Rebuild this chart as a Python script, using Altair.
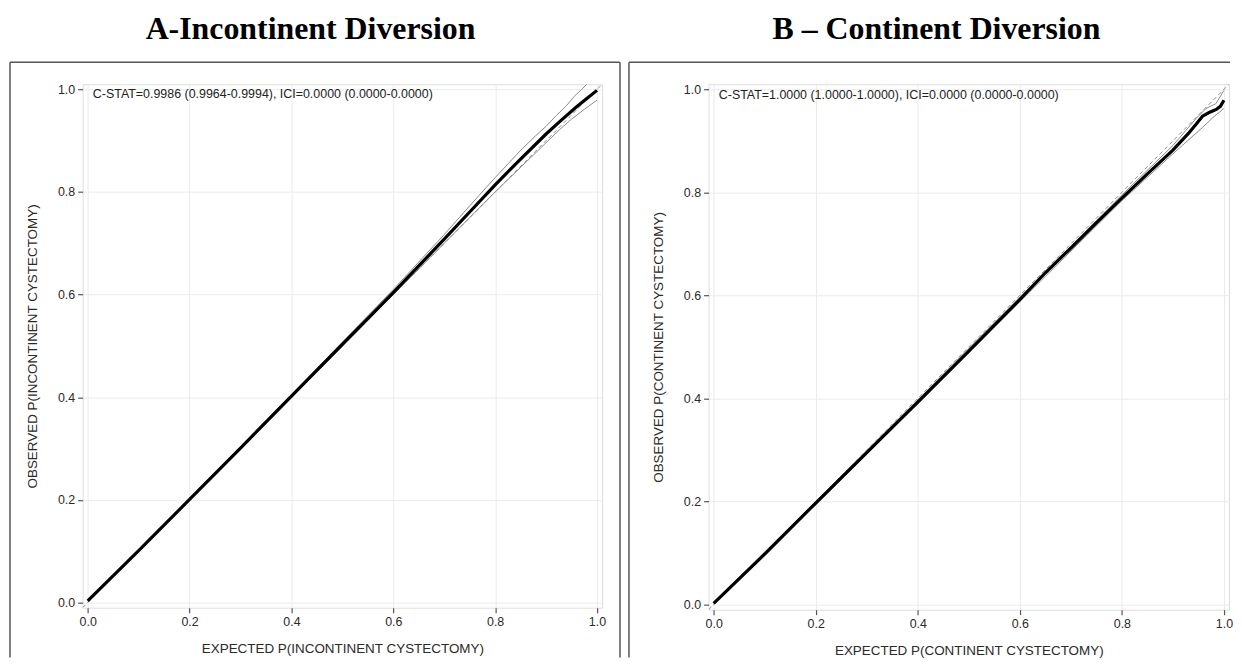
import altair as alt
import pandas as pd

# ---------------- data ----------------
tick_vals = [0.0, 0.2, 0.4, 0.6, 0.8, 1.0]
diag = [-0.01, 1.01]

# Panel A - incontinent diversion
a_x = [0.0, 0.1, 0.2, 0.3, 0.4, 0.5, 0.6, 0.65, 0.7, 0.75, 0.8, 0.85, 0.9, 0.93, 0.96, 0.98, 1.0]
a_y = [0.003, 0.101, 0.201, 0.301, 0.402, 0.503, 0.604, 0.656, 0.708, 0.761, 0.814, 0.864, 0.913, 0.94, 0.966, 0.982, 0.998]
a_up_x = [0.0, 0.2, 0.4, 0.6, 0.7, 0.75, 0.8, 0.85, 0.88, 0.9, 0.92, 0.94, 0.955, 0.97, 0.99, 1.0]
a_up_y = [0.004, 0.203, 0.405, 0.61, 0.717, 0.773, 0.828, 0.881, 0.91, 0.928, 0.949, 0.968, 0.986, 1.0, 1.02, 1.03]
a_lo_x = [0.0, 0.2, 0.4, 0.6, 0.7, 0.8, 0.85, 0.9, 0.926, 0.95, 0.975, 1.0]
a_lo_y = [0.001, 0.199, 0.399, 0.6, 0.7, 0.8, 0.848, 0.896, 0.921, 0.942, 0.961, 0.979]

# Panel B - continent diversion
b_x = [0.0, 0.1, 0.2, 0.3, 0.4, 0.5, 0.6, 0.65, 0.7, 0.75, 0.8, 0.85, 0.9, 0.93, 0.945, 0.958, 0.971, 0.985, 0.993, 1.0]
b_y = [0.002, 0.098, 0.197, 0.295, 0.393, 0.492, 0.592, 0.644, 0.692, 0.741, 0.789, 0.836, 0.882, 0.914, 0.932, 0.948, 0.955, 0.961, 0.967, 0.979]
b_up_x = [0.0, 0.2, 0.4, 0.6, 0.8, 0.9, 0.945, 0.965, 0.984, 1.0]
b_up_y = [0.004, 0.2, 0.397, 0.597, 0.795, 0.891, 0.943, 0.963, 0.972, 0.998]
b_lo_x = [0.0, 0.2, 0.4, 0.6, 0.8, 0.9, 0.958, 0.978, 1.0]
b_lo_y = [0.001, 0.194, 0.39, 0.588, 0.784, 0.875, 0.926, 0.945, 0.963]

a_stat = "C-STAT=0.9986 (0.9964-0.9994), ICI=0.0000 (0.0000-0.0000)"
b_stat = "C-STAT=1.0000 (1.0000-1.0000), ICI=0.0000 (0.0000-0.0000)"
a_title = "A-Incontinent Diversion"
b_title = "B \u2013 Continent Diversion"
a_xt = "EXPECTED P(INCONTINENT CYSTECTOMY)"
a_yt = "OBSERVED P(INCONTINENT CYSTECTOMY)"
b_xt = "EXPECTED P(CONTINENT CYSTECTOMY)"
b_yt = "OBSERVED P(CONTINENT CYSTECTOMY)"
stat_pos = [0.01, 0.99]

SANS = "Liberation Sans"
SERIF = "Liberation Serif"


def axis(title, pad):
    return alt.Axis(values=tick_vals, format=".1f", title=title, grid=True,
                    gridColor="#ebebeb", gridWidth=1, domain=False,
                    tickColor="#555555", tickSize=5, tickWidth=1.2,
                    labelFont=SANS, labelFontSize=12.5, labelColor="#2a2a2a",
                    labelPadding=3, titleFont=SANS, titleFontSize=13.5,
                    titleFontWeight="normal", titleColor="#2a2a2a",
                    titlePadding=pad)


def panel(cx, cy, ux, uy, lx, ly, stat, xt, yt, title, w, h,
          box_left, box_right, title_x, with_right_edge):
    sx = alt.Scale(domain=diag, nice=False, zero=False)
    sy = alt.Scale(domain=diag, nice=False, zero=False)
    X = alt.X("x:Q", scale=sx, axis=axis(xt, 14))
    Y = alt.Y("y:Q", scale=sy, axis=axis(yt, 18))

    def line(xs, ys, color, width, dash=None):
        kw = dict(color=color, strokeWidth=width, clip=True)
        if dash:
            kw["strokeDash"] = dash
        return alt.Chart(pd.DataFrame({"x": xs, "y": ys})).mark_line(**kw).encode(
            x=X, y=Y, order="x:Q")

    diag_l = line(diag, diag, "#8c8c8c", 1, [4, 3])
    up = line(ux, uy, "#8a8a8a", 1)
    lo = line(lx, ly, "#8a8a8a", 1)
    cur = line(cx, cy, "#000000", 3.2)

    txt = alt.Chart(pd.DataFrame({"x": [stat_pos[0]], "y": [stat_pos[1]], "t": [stat]})).mark_text(
        align="left", baseline="middle", font=SANS, fontSize=12.5, color="#222222"
    ).encode(x=X, y=Y, text="t:N")

    one = pd.DataFrame({"k": [0]})
    ttl = alt.Chart(pd.DataFrame({"t": [title]})).mark_text(
        align="center", baseline="alphabetic", font=SERIF, fontSize=32,
        fontWeight="bold", color="#000000"
    ).encode(x=alt.value(title_x), y=alt.value(-45), text="t:N")

    top_anchor = alt.Chart(one).mark_rule(color="#ffffff", strokeWidth=1).encode(
        x=alt.value(box_left), x2=alt.value(box_left + 5), y=alt.value(-74))
    box_top = alt.Chart(one).mark_rule(color="#555555", strokeWidth=1.5).encode(
        x=alt.value(box_left), x2=alt.value(box_right), y=alt.value(-22))
    box_l = alt.Chart(one).mark_rule(color="#555555", strokeWidth=1.5).encode(
        x=alt.value(box_left), y=alt.value(-22), y2=alt.value(576))
    layers = [diag_l, up, lo, cur, txt, ttl, top_anchor, box_top, box_l]
    if with_right_edge:
        layers.append(alt.Chart(one).mark_rule(color="#555555", strokeWidth=1.5).encode(
            x=alt.value(box_right), y=alt.value(-22), y2=alt.value(576)))
    return alt.layer(*layers).properties(width=w, height=h)


left = panel(a_x, a_y, a_up_x, a_up_y, a_lo_x, a_lo_y, a_stat, a_xt, a_yt,
             a_title, 522, 526, -73, 540, 229, True)
right = panel(b_x, b_y, b_up_x, b_up_y, b_lo_x, b_lo_y, b_stat, b_xt, b_yt,
              b_title, 523, 528, -80, 524, 229, False)

chart = alt.hconcat(left, right, spacing=107, bounds="flush").properties(
    padding=0
).configure_view(stroke="#5a5a5a", strokeWidth=1.5).configure(background="white")

chart.save("out.html", embed_options={"renderer": "svg", "actions": False})
